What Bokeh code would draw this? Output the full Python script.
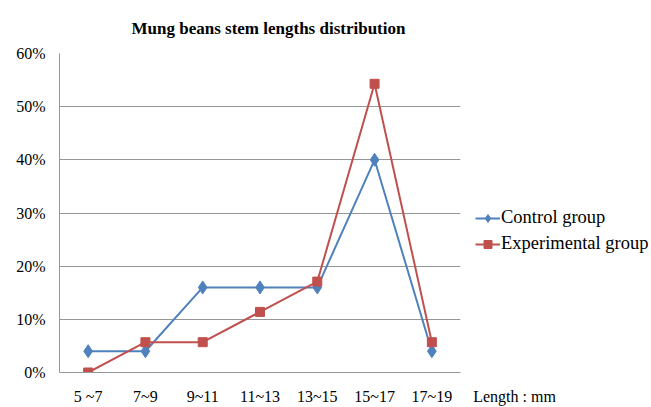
from bokeh.plotting import figure
from bokeh.layouts import row
from bokeh.models import (FactorRange, Range1d, NumeralTickFormatter, Legend, LegendItem,
                          FixedTicker, LinearAxis)
from bokeh.embed import file_html
from bokeh.resources import INLINE

categories = ["5 ~7", "7~9", "9~11", "11~13", "13~15", "15~17", "17~19"]
control = [0.04, 0.04, 0.16, 0.16, 0.16, 0.40, 0.04]
experimental = [0.0, 0.057, 0.057, 0.114, 0.171, 0.543, 0.057]
y_ticks = [0.0, 0.1, 0.2, 0.3, 0.4, 0.5, 0.6]
series_names = ["Control group", "Experimental group"]
x_unit_label = "Length : mm"

FONT = "Liberation Serif"
BLUE = "#4F81BD"
RED = "#C0504D"
GRID = "#969696"
H = 407

p = figure(width=470, height=H, x_range=FactorRange(*categories, range_padding=0),
           y_range=Range1d(0, 0.6), output_backend="svg", toolbar_location=None,
           min_border_left=59, min_border_right=10, min_border_top=52, min_border_bottom=34)

p.title.text = "Mung beans stem lengths distribution"
p.title.text_font = FONT
p.title.text_font_size = "17px"
p.title.text_font_style = "bold"
p.title.text_color = "#000000"
p.title.align = "left"
p.title.offset = 72
p.title.standoff = 32

p.outline_line_color = None
p.xgrid.grid_line_color = None
p.ygrid.grid_line_color = GRID
p.ygrid.grid_line_width = 1
p.yaxis.ticker = FixedTicker(ticks=y_ticks)
p.yaxis.formatter = NumeralTickFormatter(format="0%")


def style_axis(ax, standoff):
    ax.axis_line_color = GRID
    ax.major_tick_line_color = None
    ax.minor_tick_line_color = None
    ax.major_tick_out = 0
    ax.major_tick_in = 0
    ax.minor_tick_out = 0
    ax.minor_tick_in = 0
    ax.major_label_text_font = FONT
    ax.major_label_text_font_size = "16px"
    ax.major_label_text_color = "#000000"
    ax.major_label_standoff = standoff


style_axis(p.yaxis[0], 14)
style_axis(p.xaxis[0], 15)

p.line(categories, control, color=BLUE, line_width=2)
p.scatter(categories, control, marker="diamond", size=13, color=BLUE)
p.line(categories, experimental, color=RED, line_width=2)
p.scatter(categories, experimental, marker="square", size=9, color=RED)

# side panel with legend and unit label
q = figure(width=181, height=H, x_range=Range1d(470, 651), y_range=Range1d(0, 1),
           output_backend="svg", toolbar_location=None, title=None,
           x_axis_location=None, y_axis_location=None,
           min_border_left=0, min_border_right=0, min_border_top=52, min_border_bottom=34)
q.grid.visible = False
q.outline_line_color = None

unit_axis = LinearAxis(ticker=FixedTicker(ticks=[514]),
                       major_label_overrides={514: x_unit_label})
style_axis(unit_axis, 15)
unit_axis.axis_line_color = None
q.add_layout(unit_axis, "below")

nan = float("nan")
lc = q.line([nan], [nan], color=BLUE, line_width=2)
mc = q.scatter([nan], [nan], marker="diamond", size=10, color=BLUE)
le = q.line([nan], [nan], color=RED, line_width=2)
me = q.scatter([nan], [nan], marker="square", size=8, color=RED)

legend = Legend(items=[LegendItem(label=series_names[0], renderers=[lc, mc]),
                       LegendItem(label=series_names[1], renderers=[le, me])],
                location=(5, 118), label_text_font=FONT, label_text_font_size="18.5px",
                label_text_color="#000000",
                border_line_color=None, background_fill_alpha=0, spacing=5, padding=4,
                glyph_width=25, glyph_height=20, label_standoff=1, margin=0)
q.add_layout(legend, "center")

layout = row(p, q)
open("out.html", "w").write(file_html(layout, INLINE))
